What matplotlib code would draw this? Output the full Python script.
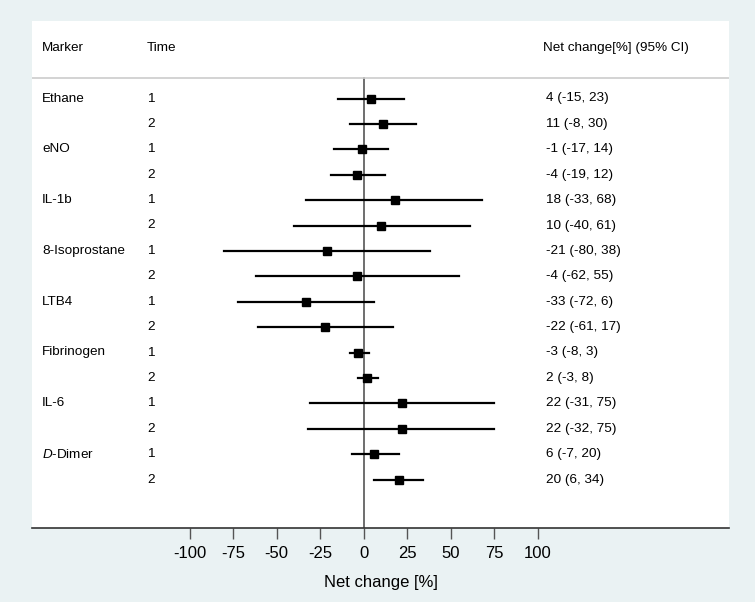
import matplotlib
matplotlib.use("Agg")
import matplotlib.pyplot as plt

plt.rcParams['font.family'] = ['Liberation Sans', 'DejaVu Sans']
plt.rcParams['mathtext.fontset'] = 'custom'
plt.rcParams['mathtext.it'] = 'Liberation Sans:italic'
plt.rcParams['mathtext.rm'] = 'Liberation Sans'

markers = ["Ethane", "eNO", "IL-1b", "8-Isoprostane", "LTB4", "Fibrinogen", "IL-6", r"$\mathit{D}$-Dimer"]
times = [1, 2]
estimate = [4, 11, -1, -4, 18, 10, -21, -4, -33, -22, -3, 2, 22, 22, 6, 20]
lower = [-15, -8, -17, -19, -33, -40, -80, -62, -72, -61, -8, -3, -31, -32, -7, 6]
upper = [23, 30, 14, 12, 68, 61, 38, 55, 6, 17, 3, 8, 75, 75, 20, 34]
xticks = [-100, -75, -50, -25, 0, 25, 50, 75, 100]

W, H = 755, 602
fig = plt.figure(figsize=(W / 100, H / 100), dpi=100)
fig.patch.set_facecolor('#EAF2F3')

# white plot region in pixels: x 32..729, y 21..528 (from top)
left, right, top, bottom = 32, 729, 21, 528
ax = fig.add_axes([left / W, 1 - bottom / H, (right - left) / W, (bottom - top) / H])
ax.set_facecolor('white')

px_per_unit = 1.74
x0_px = 363.7
xmin = (left - x0_px) / px_per_unit
xmax = (right - x0_px) / px_per_unit
row0_px = 98.5
row_step = 25.4
ymin_d = (top - row0_px) / row_step
ymax_d = (bottom - row0_px) / row_step
ax.set_xlim(xmin, xmax)
ax.set_ylim(ymax_d, ymin_d)

for s in ['top', 'right', 'left']:
    ax.spines[s].set_visible(False)
ax.spines['bottom'].set_color('#333333')
ax.spines['bottom'].set_linewidth(1.2)

ax.set_yticks([])
ax.set_xticks(xticks)
ax.set_xticklabels([str(t) for t in xticks], fontsize=12)
ax.tick_params(axis='x', direction='out', length=8, width=1, color='#555555', pad=5)
ax.set_xlabel("Net change [%]", fontsize=12, labelpad=10)

# header separator
sep_y = (78 - row0_px) / row_step
ax.axhline(sep_y, color='#cccccc', lw=1.2)
# zero line
ax.plot([0, 0], [sep_y, ymax_d], color='#555555', lw=1.2, zorder=1)

hdr_y = (48 - row0_px) / row_step
x_marker = (42 - x0_px) / px_per_unit
x_time = (147 - x0_px) / px_per_unit
x_hdr_ci = (543 - x0_px) / px_per_unit
x_ci = (546 - x0_px) / px_per_unit
fs = 9.7
ax.text(x_marker, hdr_y, "Marker", fontsize=fs, va='center', ha='left')
ax.text(x_time, hdr_y, "Time", fontsize=fs, va='center', ha='left')
ax.text(x_hdr_ci, hdr_y, "Net change[%] (95% CI)", fontsize=fs, va='center', ha='left')

i = 0
for m in markers:
    for t in times:
        y = i
        if t == 1:
            ax.text(x_marker, y, m, fontsize=fs, va='center', ha='left')
        ax.text(x_time, y, str(t), fontsize=fs, va='center', ha='left')
        ax.text(x_ci, y, f"{estimate[i]} ({lower[i]}, {upper[i]})", fontsize=fs, va='center', ha='left')
        ax.plot([lower[i], upper[i]], [y, y], color='black', lw=1.6, zorder=2)
        ax.plot([estimate[i]], [y], marker='s', ms=5.8, color='black', zorder=3)
        i += 1

fig.savefig("out.png", dpi=100, facecolor=fig.get_facecolor())
